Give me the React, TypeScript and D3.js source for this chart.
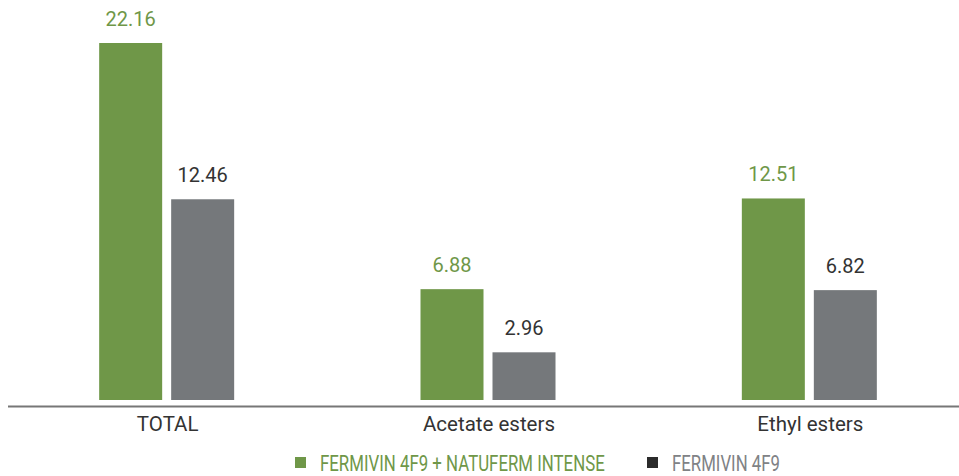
import React, { useLayoutEffect, useRef, useState } from "react";
import * as d3 from "d3";

const categories = ["TOTAL", "Acetate esters", "Ethyl esters"];
const seriesNames = ["FERMIVIN 4F9 + NATUFERM INTENSE", "FERMIVIN 4F9"];
const seriesA = [22.16, 6.88, 12.51];
const seriesB = [12.46, 2.96, 6.82];

const W = 959;
const H = 476;
const GREEN = "#6f9748";
const GREY = "#75787b";

function FitText({ x, y, width, fontSize, fill, children }: any) {
  const ref = useRef<SVGTextElement>(null);
  const [sx, setSx] = useState(1);
  useLayoutEffect(() => {
    if (ref.current) {
      const w = ref.current.getComputedTextLength();
      if (w > 0) setSx(width / w);
    }
  }, [width, children]);
  return (
    <g transform={`translate(${x},${y}) scale(${sx},1)`}>
      <text ref={ref} x={0} y={0} fontSize={fontSize} fill={fill}>{children}</text>
    </g>
  );
}

export default function App() {
  const x = d3.scaleBand<string>().domain(categories).range([6, 970]).paddingInner(0).paddingOuter(0);
  const y = d3.scaleLinear().domain([0, 22.16]).range([400, 43]);
  const sub = d3.scaleBand<string>().domain(["a", "b"]).range([-67.5, 67.5]).paddingInner(0.125);
  const series = [
    { key: "a", values: seriesA, color: GREEN, label: GREEN },
    { key: "b", values: seriesB, color: GREY, label: "#333333" },
  ];
  const legendItems = [
    { name: seriesNames[0], sq: GREEN, text: GREEN, x: 295, tx: 320, tw: 285 },
    { name: seriesNames[1], sq: "#2b2b2b", text: "#808285", x: 647, tx: 672, tw: 108 },
  ];
  return (
    <svg width={W} height={H} style={{ position: "absolute", left: 0, top: 0 }} fontFamily="Roboto, sans-serif">
      <rect width={W} height={H} fill="#fff" />
      {categories.map((c, i) => {
        const cx = (x(c) as number) + x.bandwidth() / 2;
        return (
          <g key={c}>
            {series.map((s) => {
              const bx = cx + (sub(s.key) as number);
              const v = s.values[i];
              return (
                <g key={s.key}>
                  <rect x={bx} y={y(v)} width={sub.bandwidth()} height={y(0) - y(v)} fill={s.color} />
                  <text x={bx + sub.bandwidth() / 2} y={y(v) - 17} textAnchor="middle" fontSize={20} fill={s.label}>
                    {v.toFixed(2)}
                  </text>
                </g>
              );
            })}
            <text x={cx + 1} y={431} textAnchor="middle" fontSize={20.5} fill="#333">{c}</text>
          </g>
        );
      })}
      <line x1={8} x2={W} y1={406.5} y2={406.5} stroke="#777" strokeWidth={2} />
      {legendItems.map((l) => (
        <g key={l.name}>
          <rect x={l.x} y={457} width={11} height={11} fill={l.sq} />
          <FitText x={l.tx} y={471} width={l.tw} fontSize={23} fill={l.text}>{l.name}</FitText>
        </g>
      ))}
    </svg>
  );
}
